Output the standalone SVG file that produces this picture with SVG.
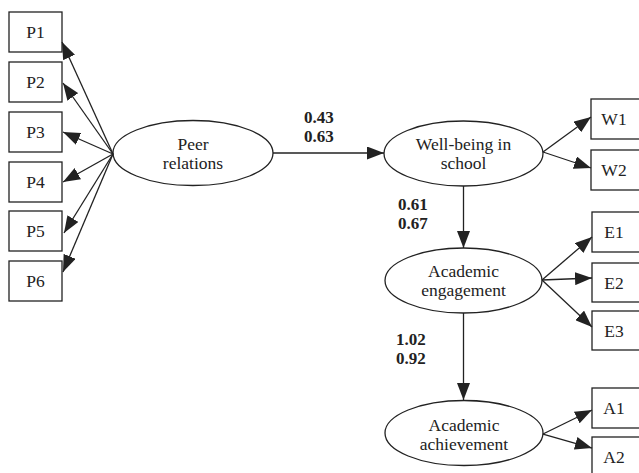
<svg xmlns="http://www.w3.org/2000/svg" width="639" height="473" viewBox="0 0 639 473">
<style>
.box{fill:#fff;stroke:#222;stroke-width:1.3}
.ell{fill:#fff;stroke:#222;stroke-width:1.3}
.t{font-family:"Liberation Serif","Times New Roman",serif;font-size:17.5px;fill:#222;text-anchor:middle}
.n{font-family:"Liberation Serif","Times New Roman",serif;font-size:17px;font-weight:bold;fill:#222}
.c line{stroke:#222;stroke-width:1.3;marker-end:url(#ah)}
</style>
<defs>
<marker id="ah" markerUnits="userSpaceOnUse" markerWidth="17" markerHeight="13" refX="17" refY="6.5" orient="auto">
<path d="M0,0 L17,6.5 L0,13 z" fill="#222"/>
</marker>
</defs>
<rect width="639" height="473" fill="#fff"/>
<g id="P1"><rect class="box" x="9" y="12" width="53" height="40"/><text class="t" x="35.5" y="38">P1</text></g>
<g id="P2"><rect class="box" x="9" y="62" width="53" height="40"/><text class="t" x="35.5" y="88">P2</text></g>
<g id="P3"><rect class="box" x="9" y="112" width="53" height="40"/><text class="t" x="35.5" y="138">P3</text></g>
<g id="P4"><rect class="box" x="9" y="162" width="53" height="40"/><text class="t" x="35.5" y="188">P4</text></g>
<g id="P5"><rect class="box" x="9" y="211" width="53" height="40"/><text class="t" x="35.5" y="237">P5</text></g>
<g id="P6"><rect class="box" x="9" y="261" width="53" height="40"/><text class="t" x="35.5" y="287">P6</text></g>
<g id="peer"><ellipse class="ell" cx="193" cy="153" rx="80" ry="32.5"/><text class="t" x="193" y="150">Peer</text><text class="t" x="193" y="169">relations</text></g>
<g id="wellbeing"><ellipse class="ell" cx="463.5" cy="153.5" rx="79.5" ry="32.5"/><text class="t" x="463.5" y="150">Well-being in</text><text class="t" x="463.5" y="169">school</text></g>
<g id="engagement"><ellipse class="ell" cx="463.5" cy="280.5" rx="78.5" ry="32.5"/><text class="t" x="463.5" y="277">Academic</text><text class="t" x="463.5" y="296">engagement</text></g>
<g id="achievement"><ellipse class="ell" cx="464" cy="433" rx="79" ry="32.5"/><text class="t" x="464" y="431">Academic</text><text class="t" x="464" y="450">achievement</text></g>
<g id="W1"><rect class="box" x="591" y="99" width="53" height="40"/><text class="t" x="614" y="125">W1</text></g>
<g id="W2"><rect class="box" x="591" y="150" width="53" height="40"/><text class="t" x="614" y="176">W2</text></g>
<g id="E1"><rect class="box" x="592" y="212" width="53" height="40"/><text class="t" x="614" y="238">E1</text></g>
<g id="E2"><rect class="box" x="592" y="263" width="53" height="39"/><text class="t" x="614" y="289">E2</text></g>
<g id="E3"><rect class="box" x="592" y="311" width="53" height="39"/><text class="t" x="614" y="337">E3</text></g>
<g id="A1"><rect class="box" x="592" y="388" width="53" height="40"/><text class="t" x="614" y="414">A1</text></g>
<g id="A2"><rect class="box" x="592" y="437" width="53" height="40"/><text class="t" x="614" y="463">A2</text></g>
<g class="c" id="connectors">
<line x1="113" y1="154" x2="62" y2="42"/>
<line x1="113" y1="154" x2="63" y2="83"/>
<line x1="113" y1="154" x2="63" y2="132"/>
<line x1="113" y1="154" x2="63" y2="182"/>
<line x1="113" y1="154" x2="64" y2="233"/>
<line x1="113" y1="154" x2="63" y2="272"/>
<line x1="273" y1="153" x2="384" y2="153"/>
<line x1="543" y1="152" x2="591" y2="117"/>
<line x1="543" y1="152" x2="591" y2="168"/>
<line x1="463.5" y1="186" x2="463.5" y2="248"/>
<line x1="542" y1="280" x2="592" y2="237"/>
<line x1="542" y1="280" x2="592" y2="278"/>
<line x1="542" y1="280" x2="592" y2="327"/>
<line x1="463.5" y1="313" x2="463.5" y2="400"/>
<line x1="543" y1="434" x2="592" y2="410"/>
<line x1="543" y1="434" x2="592" y2="448"/>
</g>
<g id="labels">
<text class="n" x="304" y="123">0.43</text>
<text class="n" x="304" y="142">0.63</text>
<text class="n" x="398" y="210">0.61</text>
<text class="n" x="398" y="229">0.67</text>
<text class="n" x="396" y="345">1.02</text>
<text class="n" x="396" y="364">0.92</text>
</g>
</svg>
